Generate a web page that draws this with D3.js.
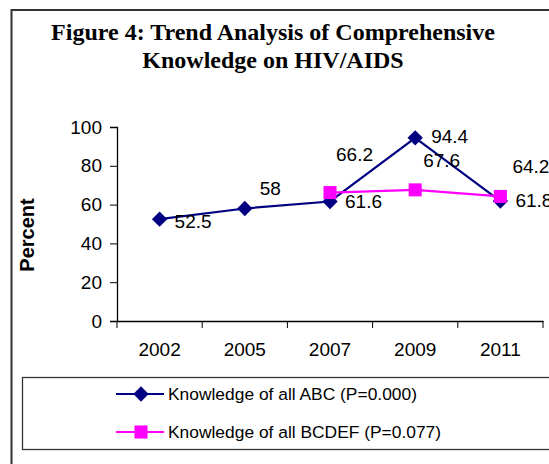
<!DOCTYPE html>
<html>
<head>
<meta charset="utf-8">
<script src="https://cdn.jsdelivr.net/npm/d3@7"></script>
<style>
  body { margin: 0; background: #fff; }
  svg { display: block; }
</style>
</head>
<body>
<svg id="chart"></svg>
<script>
var years = ["2002", "2005", "2007", "2009", "2011"];
var abcValues = [52.5, 58, 61.6, 94.4, 61.8];
var bcdefValues = [null, null, 66.2, 67.6, 64.2];
var yTicks = [0, 20, 40, 60, 80, 100];
var seriesNames = ["Knowledge of all ABC (P=0.000)", "Knowledge of all BCDEF (P=0.077)"];

// label nudges (px) relative to each point, like the excel placement
var abcLabelOffset = [[15, 9], [15, -13], [15, 7], [16, 5], [15, 6]];
var bcdefLabelOffset = [null, null, [6, -32], [8, -23], [12, -23]];

var width = 549, height = 464;
var navy = "#000080", pink = "#ff00ff";

var svg = d3.select("#chart").attr("width", width).attr("height", height);

// outer frame (runs off the right/bottom of the crop)
svg.append("rect")
  .attr("x", 11.5).attr("y", 10).attr("width", 560).attr("height", 470)
  .attr("fill", "none").attr("stroke", "#333").attr("stroke-width", 2);

var titleFont = "bold 24px 'Liberation Serif', 'Times New Roman', serif";
svg.append("text")
  .attr("x", 273).attr("y", 40)
  .attr("text-anchor", "middle")
  .style("font", titleFont)
  .text("Figure 4: Trend Analysis of Comprehensive");
svg.append("text")
  .attr("x", 273).attr("y", 68)
  .attr("text-anchor", "middle")
  .style("font", titleFont)
  .text("Knowledge on HIV/AIDS");

var margin = {left: 117, top: 127, right: 549 - 543, bottom: 464 - 321};
var plotW = width - margin.left - margin.right, plotH = height - margin.top - margin.bottom;
var g = svg.append("g").attr("transform", "translate(" + margin.left + "," + margin.top + ")");

var xScale = d3.scaleBand().domain(years).range([0, plotW]);
var yScale = d3.scaleLinear().domain([0, 100]).range([plotH, 0]);

var font = "'Liberation Sans', Arial, sans-serif";

var yAxis = g.append("g")
  .call(d3.axisLeft(yScale).tickValues(yTicks).tickSize(7).tickPadding(8));
var xAxis = g.append("g")
  .attr("transform", "translate(0," + plotH + ")")
  .call(d3.axisBottom(xScale).tickSize(0).tickPadding(22));
// excel puts ticks between categories
xAxis.selectAll(".between")
  .data(d3.range(years.length + 1))
  .enter().append("line")
  .attr("x1", function(i) { return i * xScale.step(); })
  .attr("x2", function(i) { return i * xScale.step(); })
  .attr("y1", 0).attr("y2", 7)
  .attr("stroke", "#000");

[yAxis, xAxis].forEach(function(a) {
  a.selectAll("path.domain").attr("stroke", "#000").attr("stroke-width", 1.3);
  a.selectAll("line").attr("stroke", "#000");
  a.selectAll("text").style("font-family", font).style("font-size", "19px").attr("fill", "#000");
});

svg.append("text")
  .attr("transform", "translate(34,235) rotate(-90)")
  .attr("text-anchor", "middle")
  .style("font", "bold 20px " + font)
  .text("Percent");

function cx(i) { return xScale(years[i]) + xScale.bandwidth() / 2; }

var line = d3.line()
  .defined(function(d) { return d != null; })
  .x(function(d, i) { return cx(i); })
  .y(function(d) { return yScale(d); });

g.append("path").datum(abcValues)
  .attr("d", line).attr("fill", "none").attr("stroke", navy).attr("stroke-width", 2.2);
g.append("path").datum(bcdefValues)
  .attr("d", line).attr("fill", "none").attr("stroke", pink).attr("stroke-width", 2.2);

var diamond = d3.symbol().type(d3.symbolDiamond2).size(150);
var square = d3.symbol().type(d3.symbolSquare).size(170);

g.selectAll(".abc")
  .data(abcValues).enter().append("path")
  .attr("d", diamond)
  .attr("transform", function(d, i) { return "translate(" + cx(i) + "," + yScale(d) + ")"; })
  .attr("fill", navy);
g.selectAll(".bcdef")
  .data(bcdefValues.map(function(v, i) { return {v: v, i: i}; }).filter(function(d) { return d.v != null; }))
  .enter().append("path")
  .attr("d", square)
  .attr("transform", function(d) { return "translate(" + cx(d.i) + "," + yScale(d.v) + ")"; })
  .attr("fill", pink);

g.selectAll(".abcLabel")
  .data(abcValues).enter().append("text")
  .attr("x", function(d, i) { return cx(i) + abcLabelOffset[i][0]; })
  .attr("y", function(d, i) { return yScale(d) + abcLabelOffset[i][1]; })
  .style("font-family", font).style("font-size", "19px")
  .text(function(d) { return d; });
g.selectAll(".bcdefLabel")
  .data(bcdefValues.map(function(v, i) { return {v: v, i: i}; }).filter(function(d) { return d.v != null; }))
  .enter().append("text")
  .attr("x", function(d) { return cx(d.i) + bcdefLabelOffset[d.i][0]; })
  .attr("y", function(d) { return yScale(d.v) + bcdefLabelOffset[d.i][1]; })
  .style("font-family", font).style("font-size", "19px")
  .text(function(d) { return d.v; });

// legend
svg.append("rect")
  .attr("x", 22.5).attr("y", 377.5).attr("width", 560).attr("height", 72)
  .attr("fill", "none").attr("stroke", "#333").attr("stroke-width", 1.3);

var legend = svg.selectAll(".legend")
  .data(seriesNames).enter().append("g")
  .attr("transform", function(d, i) { return "translate(116," + (394 + i * 38) + ")"; });
legend.append("line")
  .attr("x1", 0).attr("x2", 48).attr("y1", 0).attr("y2", 0)
  .attr("stroke", function(d, i) { return i ? pink : navy; }).attr("stroke-width", 2.2);
legend.append("path")
  .attr("transform", "translate(25,0)")
  .attr("d", function(d, i) { return i ? square() : diamond(); })
  .attr("fill", function(d, i) { return i ? pink : navy; });
legend.append("text")
  .attr("x", 52).attr("y", 6)
  .style("font-family", font).style("font-size", "17.4px")
  .text(function(d) { return d; });
</script>
</body>
</html>
